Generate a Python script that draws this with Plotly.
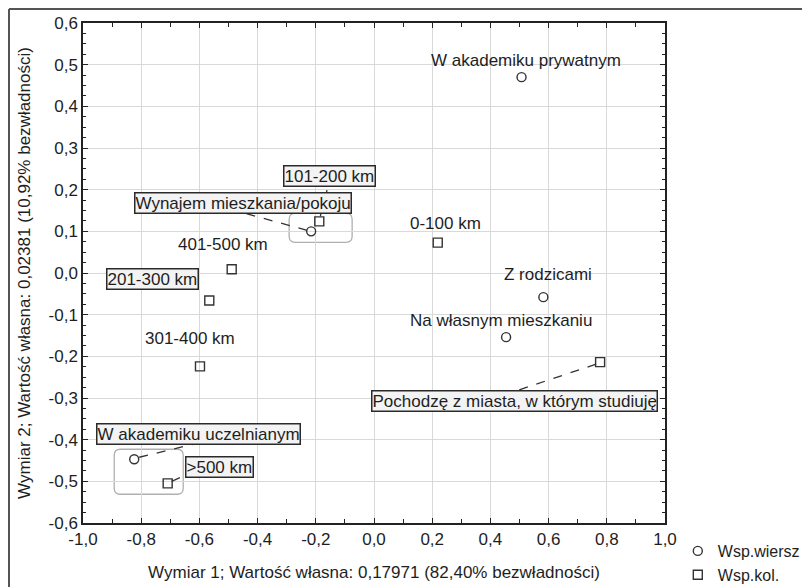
import plotly.graph_objects as go

# ---------------- data ----------------
row_labels = ["W akademiku prywatnym", "Z rodzicami", "Na własnym mieszkaniu",
              "Wynajem mieszkania/pokoju", "W akademiku uczelnianym"]
row_x = [0.507, 0.582, 0.454, -0.216, -0.824]
row_y = [0.470, -0.058, -0.154, 0.100, -0.447]

col_labels = ["0-100 km", "101-200 km", "201-300 km", "301-400 km", "401-500 km",
              ">500 km", "Pochodzę z miasta, w którym studiuję"]
col_x = [0.219, -0.188, -0.566, -0.598, -0.489, -0.709, 0.777]
col_y = [0.073, 0.124, -0.066, -0.224, 0.009, -0.505, -0.214]

x_tick_vals = [-1.0, -0.8, -0.6, -0.4, -0.2, 0.0, 0.2, 0.4, 0.6, 0.8, 1.0]
x_tick_text = ["-1,0", "-0,8", "-0,6", "-0,4", "-0,2", "0,0", "0,2", "0,4", "0,6", "0,8", "1,0"]
y_tick_vals = [-0.6, -0.5, -0.4, -0.3, -0.2, -0.1, 0.0, 0.1, 0.2, 0.3, 0.4, 0.5, 0.6]
y_tick_text = ["-0,6", "-0,5", "-0,4", "-0,3", "-0,2", "-0,1", "0,0", "0,1", "0,2", "0,3", "0,4", "0,5", "0,6"]

x_title = "Wymiar 1; Wartość własna: 0,17971 (82,40% bezwładności)"
y_title = "Wymiar 2; Wartość własna: 0,02381 (10,92% bezwładności)"
legend_names = ["Wsp.wiersz", "Wsp.kol."]

# ---------------- label placement (pixel offsets, styles) ----------------
# label -> (xshift, yshift, boxed, leader (x0,y0,x1,y1) in px relative to point or None)
label_style = {
    "W akademiku prywatnym": (4, 17, False, None),
    "Z rodzicami": (5, 23, False, None),
    "Na własnym mieszkaniu": (-5, 17, False, None),
    "Wynajem mieszkania/pokoju": (-68, 28, True, (-4, 1, -66, 18)),
    "W akademiku uczelnianym": (64, 25, True, (5, 2, 59, 15)),
    "0-100 km": (8, 19, False, None),
    "101-200 km": (10, 45, True, (1, 5, 9, 36)),
    "201-300 km": (-57, 22, True, None),
    "301-400 km": (-10, 28, False, None),
    "401-500 km": (-9, 25, False, None),
    ">500 km": (52, 16, True, (4, 2, 15, 7)),
    "Pochodzę z miasta, w którym studiuję": (-86, -39, True, (-4, -2, -85, -29)),
}
# rounded cluster frames: (anchor label, x0, x1, y0, y1) in px relative to anchor point
cluster_frames = [
    ("Wynajem mieszkania/pokoju", -22, 41, -11, 18),
    ("W akademiku uczelnianym", -20, 49, -35, 10),
]

FONT = "Liberation Sans, Arial, sans-serif"
TXT = "#1e1e1e"
FS = 17

fig = go.Figure()
fig.add_trace(go.Scatter(
    x=row_x, y=row_y, mode="markers", name=legend_names[0],
    marker=dict(symbol="circle-open", size=9, color="#333333", line=dict(width=1.4)),
    hoverinfo="skip"))
fig.add_trace(go.Scatter(
    x=col_x, y=col_y, mode="markers", name=legend_names[1],
    marker=dict(symbol="square-open", size=9, color="#333333", line=dict(width=1.4)),
    hoverinfo="skip"))

points = dict(zip(row_labels + col_labels, zip(row_x + col_x, row_y + col_y)))

annotations = []
shapes = []
for lab, (px, py) in points.items():
    xs, ys, boxed, leader = label_style[lab]
    ann = dict(x=px, y=py, xref="x", yref="y", text=lab, showarrow=False,
               xshift=xs, yshift=ys, xanchor="center", yanchor="middle",
               font=dict(family=FONT, size=FS, color=TXT))
    if boxed:
        ann.update(bgcolor="#f3f3f3", bordercolor="#2a2a2a", borderwidth=1.5, borderpad=0)
    annotations.append(ann)
    if leader is not None:
        shapes.append(dict(type="line", xref="x", yref="y", xsizemode="pixel", ysizemode="pixel",
                           xanchor=px, yanchor=py,
                           x0=leader[0], y0=leader[1], x1=leader[2], y1=leader[3],
                           line=dict(color="#333333", width=1.3, dash="dash"), layer="above"))


def rounded(x0, x1, y0, y1, r=6):
    return (f"M {x0 + r},{y0} L {x1 - r},{y0} Q {x1},{y0} {x1},{y0 + r} "
            f"L {x1},{y1 - r} Q {x1},{y1} {x1 - r},{y1} L {x0 + r},{y1} "
            f"Q {x0},{y1} {x0},{y1 - r} L {x0},{y0 + r} Q {x0},{y0} {x0 + r},{y0} Z")


for lab, x0, x1, y0, y1 in cluster_frames:
    px, py = points[lab]
    shapes.append(dict(type="path", xref="x", yref="y", xsizemode="pixel", ysizemode="pixel",
                       xanchor=px, yanchor=py, path=rounded(x0, x1, y0, y1),
                       line=dict(color="#b0b0b0", width=1.3), layer="below"))

# The page body has an 8px default margin, so the figure is 8px smaller and
# every offset below is relative to the figure's own origin.
W, H = 802, 579
ML, MT, MR, MB = 75, 15, 145, 64
PW, PH = W - ML - MR, H - MT - MB

# outer frame (top and left edges) at the figure's top-left corner
fx = (1 - ML) / PW
fy = (PH + MT - 1) / PH
shapes.append(dict(type="line", xref="paper", yref="paper", x0=fx, x1=(W - ML) / PW, y0=fy, y1=fy,
                   line=dict(color="#555555", width=2)))
shapes.append(dict(type="line", xref="paper", yref="paper", x0=fx, x1=fx, y0=fy, y1=-MB / PH,
                   line=dict(color="#555555", width=2)))

axis_common = dict(showline=True, linecolor="#222222", linewidth=1.5, mirror="ticks",
                   ticks="inside", ticklen=5, tickcolor="#222222", tickwidth=1.2,
                   showgrid=True, gridcolor="#d9d9d9", gridwidth=1, zeroline=False,
                   automargin=False,
                   tickfont=dict(family=FONT, size=FS, color=TXT))

fig.update_layout(
    width=W, height=H,
    margin=dict(l=ML, r=MR, t=MT, b=MB, autoexpand=False),
    paper_bgcolor="white", plot_bgcolor="white",
    xaxis=dict(range=[-1.0, 1.0], tickmode="array", tickvals=x_tick_vals, ticktext=x_tick_text,
               minor=dict(dtick=0.1, tick0=0, ticks="inside", ticklen=4, tickcolor="#222222", showgrid=False),
               title=dict(text=x_title, font=dict(family=FONT, size=FS, color=TXT), standoff=18),
               **axis_common),
    yaxis=dict(range=[-0.6, 0.6], tickmode="array", tickvals=y_tick_vals, ticktext=y_tick_text,
               minor=dict(dtick=0.025, tick0=0, ticks="inside", ticklen=3, tickcolor="#222222", showgrid=False),
               title=dict(text=y_title, font=dict(family=FONT, size=FS, color=TXT), standoff=14),
               **axis_common),
    legend=dict(x=1.022, y=-0.022, xanchor="left", yanchor="top", bgcolor="rgba(0,0,0,0)",
                font=dict(family=FONT, size=16, color=TXT), tracegroupgap=0, itemwidth=30),
    annotations=annotations,
    shapes=shapes,
    showlegend=True,
)

fig.write_html("out.html")
